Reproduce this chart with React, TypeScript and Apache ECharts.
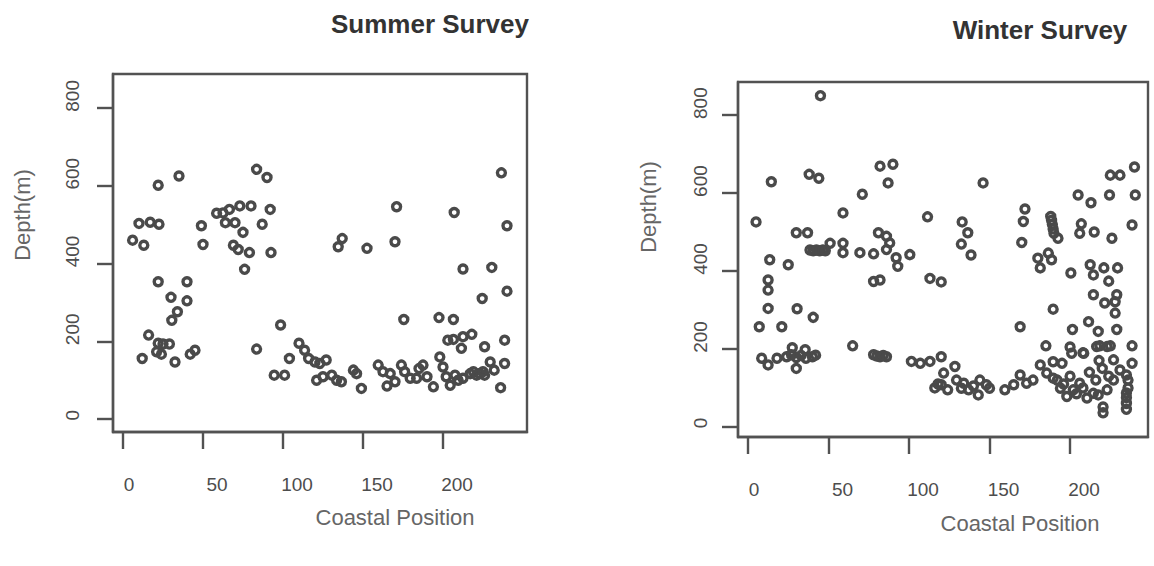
import React, { useEffect, useRef } from "react";
import * as echarts from "echarts";

// [coastal position, depth (m)]
const summerPoints: number[][] = [
  [22, 601], [35, 625], [10, 503], [17, 506], [22.5, 501], [6, 460], [13, 447], [49, 497], [50, 449],
  [58.5, 529], [62.5, 530], [66.5, 539], [73, 548], [80, 548], [83.5, 642], [90, 621], [92, 539],
  [64, 505], [70, 505], [75, 480], [87, 501], [69, 447], [72, 436], [79, 428], [92.5, 428], [76, 385],
  [22, 353], [40, 353], [30, 313], [40, 304], [34, 276], [30.5, 254], [16, 216], [22, 195], [25, 193],
  [29, 193], [21, 173], [24, 167], [12, 156], [32.5, 147], [42, 167], [45, 177], [83.5, 180], [98.5, 242],
  [104, 156], [94.5, 113], [101, 113], [110, 195],
  [236.5, 633], [171, 546], [207, 531], [240, 497], [137, 464], [134.5, 443], [152.5, 439], [170, 456],
  [212.5, 386], [230.5, 390], [240, 329], [224.5, 310], [175.5, 256], [197.5, 261], [206.5, 256], [218, 218],
  [212.5, 212], [206.5, 205], [203, 203], [211.5, 182], [226, 186], [238.5, 203], [238.5, 143], [236, 81],
  [229.5, 147], [232, 126], [226, 113], [223, 117], [219, 122], [113.5, 177], [116, 156], [120, 147],
  [123, 143], [127, 152], [121, 100], [125, 109], [130.5, 113], [133.5, 100], [136.5, 96], [144, 126],
  [146, 117], [149, 79], [159.5, 139], [162.5, 122], [167, 117], [170, 96], [174, 139], [176, 122],
  [179.5, 105], [183.5, 105], [187.5, 139], [190, 109], [194, 83], [198, 160], [200, 134], [202, 109],
  [204.5, 87], [207.5, 113], [209.5, 100], [212.5, 105], [217, 117], [221, 113], [225, 122], [165, 85],
  [185, 130]
];

const winterPoints: number[][] = [
  [45, 850], [14.5, 629], [38, 648], [44, 638], [5, 526], [30, 498], [37, 498], [38.5, 454], [40.5, 452],
  [42.5, 454], [44.5, 452], [46.5, 454], [48, 452], [51, 471], [59, 471], [59, 447], [69.5, 447], [78, 444],
  [59, 549], [71, 597], [82, 669], [90, 674], [87, 626], [81, 498], [86, 489], [88, 472], [86, 455],
  [92, 434], [78, 373], [82, 377], [13.5, 429], [25, 416], [12.5, 377], [12.5, 351], [12.5, 304],
  [30.5, 303], [40.5, 281], [7, 257], [21, 257], [65, 208], [27.5, 203], [35.5, 198], [8.5, 176],
  [12.5, 159], [18, 176], [24, 180], [27, 185], [30, 178], [33, 183], [36, 176], [40, 180], [42, 184],
  [30, 150], [78, 185], [80, 182], [82, 180], [84, 183], [86, 180],
  [240, 667], [225, 646], [231, 646], [146, 626], [205, 595], [213, 575], [224.5, 595], [240.5, 595],
  [207, 521], [206, 497], [215, 500], [226, 484], [238.5, 518], [111.5, 539], [133, 526], [136.5, 498],
  [132.5, 469], [138.5, 441], [172, 559], [171, 527], [170, 473], [188, 540], [188.5, 530], [189, 520],
  [189.5, 508], [190, 497], [192.5, 484], [180, 433], [186.5, 446], [181.5, 408], [188.5, 429],
  [200.5, 395], [212.5, 416], [214.5, 390], [221, 408], [229.5, 408], [224, 374], [229, 339], [214.5, 339],
  [221.5, 318], [228, 321], [228, 292], [189.5, 302], [113, 381], [120, 372], [169, 257], [201.5, 250],
  [211.5, 270], [217.5, 245], [229, 250], [185, 208], [200, 205], [208, 190], [218.5, 208], [225, 208],
  [238.5, 208], [238.5, 163], [235, 87], [235, 75], [235, 60], [235, 45], [220.5, 51], [220.5, 36],
  [100.5, 442], [93, 412], [101.5, 168], [107, 163], [113, 168], [120, 180], [128.5, 155], [121.5, 138],
  [129.5, 120], [132.5, 99], [120, 108], [144, 120], [148, 108], [143, 82], [150, 99], [159.5, 95],
  [165, 108], [169, 133], [173, 112], [177, 120], [181.5, 159], [185.5, 138], [189.5, 125], [194, 99],
  [198, 78], [202, 95], [206, 112], [210.5, 74], [214.5, 86], [189.5, 167], [195, 163], [201, 189],
  [208.5, 189], [216.5, 206], [223, 206], [227, 172], [231, 146], [235, 133], [227, 120], [223, 95],
  [217.5, 82], [116, 100], [118, 110], [124, 95], [134, 112], [137, 95], [140, 105], [192, 120],
  [196, 110], [200, 130], [204, 85], [208, 100], [212, 140], [216, 120], [220, 150], [224, 130],
  [218, 170], [236, 100], [236, 120]
];

const xTicks = [0, 50, 100, 150, 200];
const yTicks = [0, 200, 400, 600, 800];
const titles = ["Summer Survey", "Winter Survey"];
const xName = "Coastal Position";
const yName = "Depth(m)";

const INK = "#525252";
const TICK_TEXT = "#4d4d4d";
const FONT = "'Liberation Sans', Arial, sans-serif";

function xAxisFor(gridIndex: number, min: number, max: number) {
  return {
    gridIndex, type: "value", min, max,
    axisLine: { show: true, onZero: false, lineStyle: { color: INK, width: 2.4 } },
    axisTick: { show: true, customValues: xTicks, length: 17, lineStyle: { color: INK, width: 2.4 } },
    axisLabel: {
      customValues: xTicks, margin: 43, fontSize: 19, color: TICK_TEXT, fontFamily: FONT,
      formatter: (v: number) => (v === 0 ? `{z|${v}}` : `{n|${v}}`),
      rich: {
        z: { fontSize: 19, color: TICK_TEXT, fontFamily: FONT, padding: [0, 0, 0, 12] },
        n: { fontSize: 19, color: TICK_TEXT, fontFamily: FONT, padding: [0, 0, 0, 28] }
      }
    },
    splitLine: { show: false }
  };
}

function yAxisFor(gridIndex: number, min: number, max: number, margin: number) {
  return {
    gridIndex, type: "value", min, max,
    axisLine: { show: true, onZero: false, lineStyle: { color: INK, width: 2.4 } },
    axisTick: { show: true, customValues: yTicks, length: 16, lineStyle: { color: INK, width: 2.4 } },
    axisLabel: {
      customValues: yTicks, rotate: 90, margin, fontSize: 19, color: TICK_TEXT, fontFamily: FONT,
      formatter: (v: number) => (v === 0 ? `{z|${v}}` : `{n|${v}}`),
      rich: {
        z: { fontSize: 19, color: TICK_TEXT, fontFamily: FONT, padding: [0, 0, 0, 8] },
        n: { fontSize: 19, color: TICK_TEXT, fontFamily: FONT, padding: [0, 0, 0, 24] }
      }
    },
    splitLine: { show: false }
  };
}

function scatter(idx: number, data: number[][]) {
  return {
    type: "scatter", xAxisIndex: idx, yAxisIndex: idx, data, silent: true,
    symbol: "circle", symbolSize: 8,
    itemStyle: { color: "rgba(0,0,0,0)", borderColor: "#4a4a4a", borderWidth: 3.4, opacity: 1 }
  };
}

function label(text: string, x: number, y: number, size: number, opts: any = {}) {
  return {
    type: "text", x, y, rotation: opts.rotation || 0, silent: true,
    style: {
      text, align: "center", verticalAlign: "middle", fill: opts.fill || "#666",
      font: `${opts.weight || "normal"} ${size}px ${FONT}`
    }
  };
}

export default function App() {
  const ref = useRef<HTMLDivElement>(null);
  useEffect(() => {
    if (!ref.current) return;
    const chart = echarts.init(ref.current, null, { renderer: "svg" });
    chart.setOption({
      animation: false,
      backgroundColor: "#ffffff",
      grid: [
        { left: 113, top: 74, width: 414, height: 358, show: true, borderColor: INK, borderWidth: 2.4, backgroundColor: "transparent" },
        { left: 738, top: 82, width: 410, height: 355, show: true, borderColor: INK, borderWidth: 2.4, backgroundColor: "transparent" }
      ],
      xAxis: [xAxisFor(0, -6.25, 252.5), xAxisFor(1, -6.2, 248.4)],
      yAxis: [yAxisFor(0, -33, 887, 31), yAxisFor(1, -26, 885, 28)],
      series: [scatter(0, summerPoints), scatter(1, winterPoints)],
      graphic: [
        label(titles[0], 430, 24, 26, { weight: "bold", fill: "#333" }),
        label(titles[1], 1040, 30, 26, { weight: "bold", fill: "#333" }),
        label(xName, 395, 517, 22),
        label(xName, 1020, 523, 22),
        label(yName, 22, 215, 22, { rotation: Math.PI / 2 }),
        label(yName, 648, 207, 22, { rotation: Math.PI / 2 })
      ]
    });
    return () => chart.dispose();
  }, []);
  return <div ref={ref} style={{ position: "absolute", left: 0, top: 0, width: 1154, height: 566, background: "#fff" }} />;
}
